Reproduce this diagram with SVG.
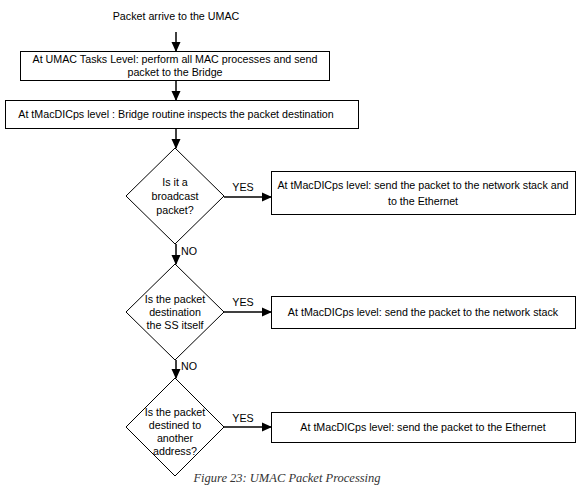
<svg xmlns="http://www.w3.org/2000/svg" width="586" height="485" viewBox="0 0 586 485">
<defs>
<marker id="ah" markerWidth="10" markerHeight="10" refX="9" refY="5" orient="auto" markerUnits="userSpaceOnUse">
<path d="M0,0.5 L10,5 L0,9.5 Z" fill="#000"/>
</marker>
<style>
.t{font-family:"Liberation Sans",Arial,sans-serif;font-size:10.7px;fill:#000;text-anchor:middle}
.b{fill:#fff;stroke:#000;stroke-width:1}
.c{stroke:#000;stroke-width:1.5;fill:none}
.cap{font-family:"Liberation Serif","Times New Roman",serif;font-style:italic;font-size:12.5px;fill:#333;text-anchor:middle}
</style>
</defs>
<rect width="586" height="485" fill="#fff"/>
<g id="start"><text class="t" x="176" y="20">Packet arrive to the UMAC</text></g>
<g id="umac"><rect class="b" x="20.5" y="51.5" width="309" height="29"/>
<text class="t" x="175" y="63">At UMAC Tasks Level: perform all MAC processes and send</text>
<text class="t" x="175" y="76">packet to the Bridge</text></g>
<g id="bridge"><rect class="b" x="5.5" y="100.5" width="353" height="28"/>
<text class="t" x="176" y="118">At tMacDICps level : Bridge routine inspects the packet destination</text></g>
<g id="d1"><polygon class="b" points="175,148 224,196 175,244 126,196"/>
<text class="t" x="175" y="186">Is it a</text><text class="t" x="175" y="200">broadcast</text><text class="t" x="175" y="214">packet?</text></g>
<g id="r1"><rect class="b" x="271.5" y="171.5" width="304" height="43"/>
<text class="t" x="423" y="189">At tMacDICps level: send the packet to the network stack and</text>
<text class="t" x="423" y="205">to the Ethernet</text></g>
<g id="d2"><polygon class="b" points="175,264 224,312 175,360 126,312"/>
<text class="t" x="175" y="303">Is the packet</text><text class="t" x="175" y="316">destination</text><text class="t" x="175" y="329">the SS itself</text></g>
<g id="r2"><rect class="b" x="271.5" y="296.5" width="304" height="32"/>
<text class="t" x="423" y="316">At tMacDICps level: send the packet to the network stack</text></g>
<g id="d3"><polygon class="b" points="175,378 224,427 175,476 126,427"/>
<text class="t" x="175" y="416">Is the packet</text><text class="t" x="175" y="429">destined to</text><text class="t" x="175" y="442">another</text><text class="t" x="175" y="455">address?</text></g>
<g id="r3"><rect class="b" x="271.5" y="412.5" width="304" height="30"/>
<text class="t" x="423" y="431">At tMacDICps level: send the packet to the Ethernet</text></g>
<g id="connectors">
<line class="c" x1="176" y1="32" x2="176" y2="51" marker-end="url(#ah)"/>
<line class="c" x1="176" y1="81" x2="176" y2="100" marker-end="url(#ah)"/>
<line class="c" x1="176" y1="129" x2="176" y2="148" marker-end="url(#ah)"/>
<line class="c" x1="224" y1="197" x2="271" y2="197" marker-end="url(#ah)"/>
<line class="c" x1="176" y1="244" x2="176" y2="264" marker-end="url(#ah)"/>
<line class="c" x1="224" y1="312" x2="271" y2="312" marker-end="url(#ah)"/>
<line class="c" x1="176" y1="360" x2="176" y2="378" marker-end="url(#ah)"/>
<line class="c" x1="224" y1="427" x2="271" y2="427" marker-end="url(#ah)"/>
<text class="t" x="243" y="191">YES</text>
<text class="t" x="189" y="255">NO</text>
<text class="t" x="243" y="306">YES</text>
<text class="t" x="189" y="370">NO</text>
<text class="t" x="243" y="422">YES</text>
</g>
<text class="cap" x="287" y="482">Figure 23: UMAC Packet Processing</text>
</svg>
